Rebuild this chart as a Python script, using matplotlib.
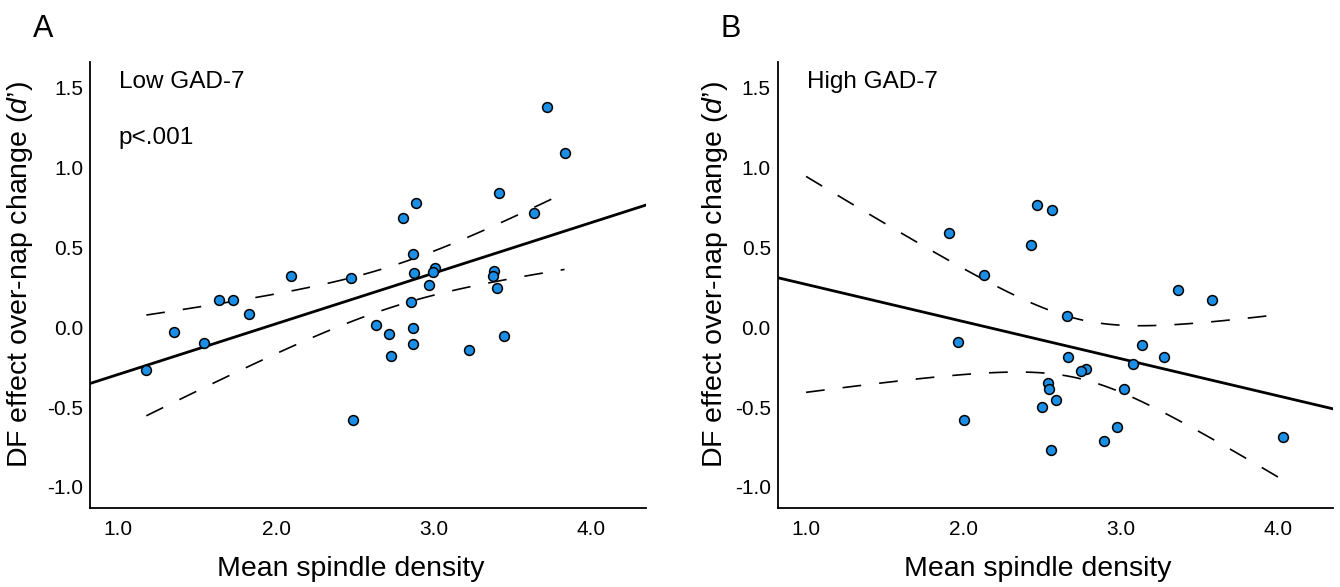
import numpy as np
import matplotlib
matplotlib.use("Agg")
import matplotlib.pyplot as plt

plt.rcParams['font.family'] = ['Liberation Sans', 'DejaVu Sans']
plt.rcParams['mathtext.fontset'] = 'custom'
plt.rcParams['mathtext.it'] = 'Liberation Sans:italic'
plt.rcParams['mathtext.rm'] = 'Liberation Sans'
plt.rcParams['lines.scale_dashes'] = False

# panel A - low GAD-7
low_x = [1.177, 1.350, 1.540, 1.635, 1.728, 1.825, 2.097, 2.477, 2.490, 2.633,
         2.715, 2.728, 2.806, 2.890, 2.853, 2.868, 2.874, 2.868, 2.868, 2.971,
         3.006, 2.996, 3.222, 3.380, 3.376, 3.399, 3.416, 3.447, 3.633, 3.720,
         3.829]
low_y = [-0.267, -0.032, -0.101, 0.169, 0.169, 0.082, 0.321, 0.308, -0.583, 0.016,
         -0.039, -0.178, 0.687, 0.780, 0.159, 0.462, 0.341, -0.003, -0.105, 0.263,
         0.371, 0.348, -0.142, 0.352, 0.323, 0.246, 0.844, -0.055, 0.715, 1.382,
         1.089]

# panel B - high GAD-7
high_x = [1.905, 2.128, 1.963, 2.003, 2.464, 2.563, 2.428, 3.362, 3.576, 2.658,
          3.136, 3.273, 2.667, 2.781, 2.745, 3.075, 2.540, 2.546, 2.586, 2.497,
          3.020, 2.975, 2.893, 2.553, 4.031]
high_y = [0.593, 0.325, -0.095, -0.578, 0.765, 0.734, 0.514, 0.236, 0.169, 0.070,
          -0.111, -0.184, -0.184, -0.260, -0.273, -0.232, -0.346, -0.387, -0.456, -0.500,
          -0.387, -0.622, -0.713, -0.769, -0.686]

# x span of the confidence band in each panel
ci_span_low = (min(low_x), max(low_x))
ci_span_high = (1.0, 4.03)
t_low = 2.045   # t(.975, df=29)
t_high = 2.069  # t(.975, df=23)

xticks = [1.0, 2.0, 3.0, 4.0]
yticks = [-1.0, -0.5, 0.0, 0.5, 1.0, 1.5]
xlim = (0.82, 4.345)
ylim = (-1.13, 1.66)

dot_color = '#1b8fe6'


def draw_panel(ax, x, y, span, tval, group, letter, ylab_x, ptext=None):
    x = np.array(x)
    y = np.array(y)
    n = len(x)
    slope, icpt = np.polyfit(x, y, 1)
    resid = y - (icpt + slope * x)
    s = np.sqrt(np.sum(resid ** 2) / (n - 2))
    sxx = np.sum((x - x.mean()) ** 2)

    xx = np.linspace(xlim[0], xlim[1], 50)
    ax.plot(xx, icpt + slope * xx, color='black', lw=2.0, zorder=2)

    xc = np.linspace(span[0], span[1], 100)
    fit = icpt + slope * xc
    half = tval * s * np.sqrt(1 / n + (xc - x.mean()) ** 2 / sxx)
    for band in (fit + half, fit - half):
        ax.plot(xc, band, color='black', lw=1.2, ls=(0, (13.5, 13)), zorder=2)

    ax.scatter(x, y, s=50, color=dot_color, edgecolor='black', linewidth=1.1, zorder=3)

    ax.set_xlim(*xlim)
    ax.set_ylim(*ylim)
    ax.set_xticks(xticks)
    ax.set_xticklabels(['%.1f' % v for v in xticks])
    ax.set_yticks(yticks)
    ax.set_yticklabels(['%.1f' % v for v in yticks])
    ax.tick_params(length=0, labelsize=15)
    ax.tick_params(axis='x', pad=9)
    ax.tick_params(axis='y', pad=5)
    for side in ['top', 'right']:
        ax.spines[side].set_visible(False)
    for side in ['left', 'bottom']:
        ax.spines[side].set_linewidth(1.3)

    ax.set_xlabel('Mean spindle density', fontsize=20.5)
    ax.set_ylabel("DF effect over-nap change ($\\mathit{d}$\u2019)", fontsize=20.5)
    ax.xaxis.set_label_coords(0.469, -0.108)
    ax.yaxis.set_label_coords(ylab_x, 0.524)

    ax.text(0.052, 0.955, group, transform=ax.transAxes, fontsize=17.5, va='center', ha='left')
    if ptext:
        ax.text(0.052, 0.83, ptext, transform=ax.transAxes, fontsize=17.5, va='center', ha='left')
    ax.text(-0.103, 1.075, letter, transform=ax.transAxes, fontsize=22, va='center', ha='left')


fig = plt.figure(figsize=(13.4, 5.87), dpi=100)
ax1 = fig.add_axes([0.0672, 0.135, 0.4148, 0.759])
ax2 = fig.add_axes([0.5804, 0.135, 0.4141, 0.759])

draw_panel(ax1, low_x, low_y, ci_span_low, t_low, 'Low GAD-7', 'A', -0.099, 'p<.001')
draw_panel(ax2, high_x, high_y, ci_span_high, t_high, 'High GAD-7', 'B', -0.086)

fig.savefig('out.png', dpi=100)
